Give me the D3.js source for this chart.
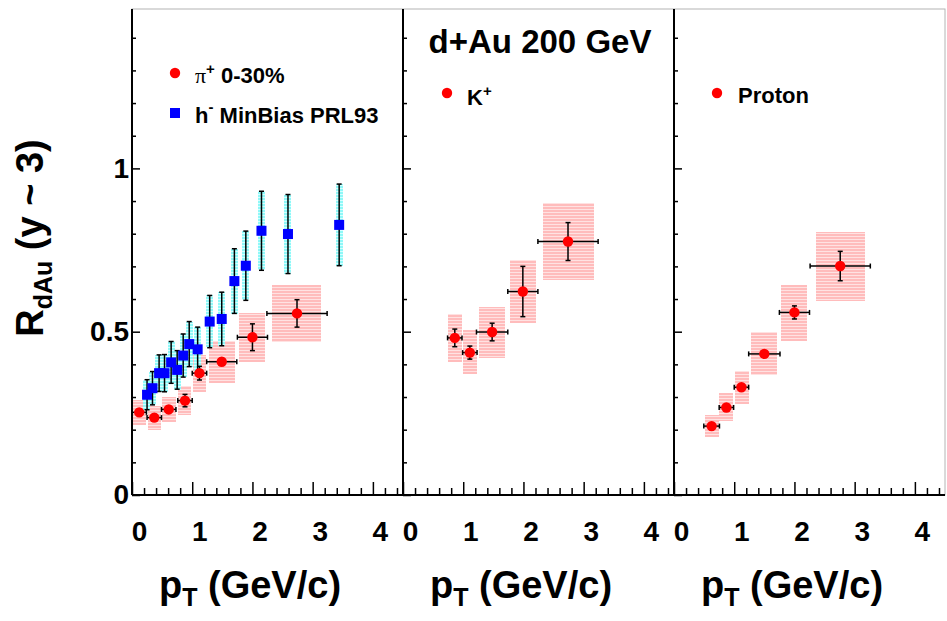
<!DOCTYPE html>
<html>
<head>
  <title>RdAu vs pT</title>
  <meta charset="utf8">
  <style type="text/css">
    body { margin: 0; background: #fff; }
    svg { font-family: 'Liberation Sans', Arial, sans-serif; font-weight: bold; }
    .axis path, .axis line { stroke: #000; }
  </style>
</head>
<body>

<script src="https://d3js.org/d3.v7.min.js"></script>

<script type="text/javascript">
var width = 947, height = 621;

// pi+ 0-30%  (left panel)
var pionPt   = [0.12, 0.37, 0.61, 0.88, 1.12, 1.49, 2.00, 2.74];
var pionR    = [0.253, 0.237, 0.262, 0.289, 0.373, 0.408, 0.483, 0.556];
var pionPtErr = [0.12, 0.12, 0.12, 0.12, 0.12, 0.25, 0.25, 0.50];
var pionStat = [0.010, 0.010, 0.010, 0.019, 0.021, 0.010, 0.041, 0.042];
var pionSys  = [0.038, 0.037, 0.039, 0.044, 0.056, 0.065, 0.075, 0.087];
var pionBin  = [0.11, 0.11, 0.12, 0.11, 0.11, 0.215, 0.215, 0.41];

// h- MinBias PRL93 (left panel)
var hPt  = [0.25, 0.34, 0.45, 0.54, 0.65, 0.75, 0.85, 0.95, 1.09, 1.29, 1.49, 1.70, 1.89, 2.15, 2.59, 3.44];
var hR   = [0.307, 0.327, 0.373, 0.373, 0.406, 0.383, 0.427, 0.462, 0.446, 0.531, 0.539, 0.655, 0.702, 0.809, 0.799, 0.827];
var hErr = [0.046, 0.051, 0.056, 0.057, 0.064, 0.059, 0.066, 0.069, 0.068, 0.080, 0.082, 0.099, 0.106, 0.121, 0.121, 0.125];
var hBin = 0.06;

// K+ (middle panel)
var kaonPt    = [0.86, 1.11, 1.48, 1.99, 2.74];
var kaonR     = [0.481, 0.436, 0.499, 0.623, 0.776];
var kaonPtErr = [0.12, 0.12, 0.26, 0.25, 0.50];
var kaonStat  = [0.027, 0.020, 0.027, 0.077, 0.058];
var kaonSys   = [0.073, 0.068, 0.078, 0.096, 0.118];
var kaonBin   = [0.115, 0.115, 0.215, 0.215, 0.42];

// proton (right panel)
var protonPt    = [0.625, 0.87, 1.12, 1.50, 2.00, 2.76];
var protonR     = [0.211, 0.268, 0.330, 0.432, 0.559, 0.701];
var protonPtErr = [0.13, 0.12, 0.12, 0.26, 0.25, 0.50];
var protonStat  = [0.008, 0.008, 0.008, 0.008, 0.020, 0.045];
var protonSys   = [0.034, 0.043, 0.051, 0.066, 0.085, 0.105];
var protonBin   = [0.115, 0.115, 0.115, 0.215, 0.215, 0.41];

var xMajor = [0, 1, 2, 3, 4];
var yMajor = [0, 0.5, 1];

var panelLeft = [132, 403, 674], panelW = 271;
var plotTop = 9, plotBottom = 495;

var svg = d3.select('body').append('svg')
    .attr('width', width)
    .attr('height', height);

svg.append('rect').attr('width', width).attr('height', height).attr('fill', '#fff');

// ROOT-like striped fill for the systematic boxes
var defs = svg.append('defs');
function hatch(id, c1, c2) {
  var p = defs.append('pattern').attr('id', id)
    .attr('patternUnits', 'userSpaceOnUse')
    .attr('width', 4).attr('height', 3);
  p.append('rect').attr('width', 4).attr('height', 3).attr('fill', c1)
    .attr('shape-rendering', 'crispEdges');
  p.append('rect').attr('y', 2).attr('width', 4).attr('height', 1).attr('fill', c2)
    .attr('shape-rendering', 'crispEdges');
}
hatch('pink', '#ffbcbc', '#ffe2e2');
hatch('cyan', '#8ff8f8', '#d4ffff');

var y = d3.scaleLinear().domain([0, 1.488]).range([plotBottom, plotTop]);

// frame
svg.append('rect')
  .attr('x', panelLeft[0]).attr('y', plotTop)
  .attr('width', panelW * 3).attr('height', plotBottom - plotTop)
  .attr('fill', 'none').attr('stroke', '#b4b4b4').attr('stroke-width', 1);

var xs = panelLeft.map(function(x0) {
  return d3.scaleLinear().domain([0, 4.5]).range([x0, x0 + panelW]);
});

function halfBin(bin, i) { return Array.isArray(bin) ? bin[i] : bin; }

function sysBoxes(g, x, pts, vals, sys, bin, fill) {
  g.selectAll(null).data(pts).enter().append('rect')
    .attr('x', function(d, i) { return Math.round(x(d - halfBin(bin, i))); })
    .attr('width', function(d, i) { return Math.round(x(d + halfBin(bin, i)) - x(d - halfBin(bin, i))); })
    .attr('y', function(d, i) { return Math.round(y(vals[i] + sys[i])); })
    .attr('height', function(d, i) { return Math.round(y(vals[i] - sys[i]) - y(vals[i] + sys[i])); })
    .attr('shape-rendering', 'crispEdges')
    .attr('fill', fill);
}

function errorBars(g, x, pts, vals, xerr, yerr) {
  var segs = [];
  pts.forEach(function(d, i) {
    var cx = x(d), cy = y(vals[i]);
    if (xerr) {
      var x1 = x(d - xerr[i]), x2 = x(d + xerr[i]);
      segs.push([x1, cy, x2, cy], [x1, cy - 2.5, x1, cy + 2.5], [x2, cy - 2.5, x2, cy + 2.5]);
    }
    var y1 = y(vals[i] + yerr[i]), y2 = y(vals[i] - yerr[i]);
    segs.push([cx, y1, cx, y2], [cx - 2.5, y1, cx + 2.5, y1], [cx - 2.5, y2, cx + 2.5, y2]);
  });
  g.selectAll(null).data(segs).enter().append('line')
    .attr('x1', function(s) { return s[0]; })
    .attr('y1', function(s) { return s[1]; })
    .attr('x2', function(s) { return s[2]; })
    .attr('y2', function(s) { return s[3]; })
    .attr('stroke', '#000').attr('stroke-width', 1.5);
}

function circles(g, x, pts, vals) {
  g.selectAll(null).data(pts).enter().append('circle')
    .attr('cx', function(d) { return x(d); })
    .attr('cy', function(d, i) { return y(vals[i]); })
    .attr('r', 5.2).attr('fill', '#ff0000');
}

function squares(g, x, pts, vals) {
  g.selectAll(null).data(pts).enter().append('rect')
    .attr('x', function(d) { return x(d) - 5; })
    .attr('y', function(d, i) { return y(vals[i]) - 5; })
    .attr('width', 10).attr('height', 10).attr('fill', '#0000ff');
}

// left panel
var g0 = svg.append('g');
sysBoxes(g0, xs[0], pionPt, pionR, pionSys, pionBin, 'url(#pink)');
sysBoxes(g0, xs[0], hPt, hR, hErr, hBin, 'url(#cyan)');
errorBars(g0, xs[0], pionPt, pionR, pionPtErr, pionStat);
errorBars(g0, xs[0], hPt, hR, null, hErr);
circles(g0, xs[0], pionPt, pionR);
squares(g0, xs[0], hPt, hR);

// middle panel
var g1 = svg.append('g');
sysBoxes(g1, xs[1], kaonPt, kaonR, kaonSys, kaonBin, 'url(#pink)');
errorBars(g1, xs[1], kaonPt, kaonR, kaonPtErr, kaonStat);
circles(g1, xs[1], kaonPt, kaonR);

// right panel
var g2 = svg.append('g');
sysBoxes(g2, xs[2], protonPt, protonR, protonSys, protonBin, 'url(#pink)');
errorBars(g2, xs[2], protonPt, protonR, protonPtErr, protonStat);
circles(g2, xs[2], protonPt, protonR);

// axes
var yMinor = d3.range(1, 15).map(function(i) { return i / 10; })
  .filter(function(v) { return Math.abs(v - 0.5) > 1e-6 && Math.abs(v - 1) > 1e-6; });
var xMinor = d3.range(1, 23).map(function(i) { return i / 5; })
  .filter(function(v) { return Math.abs(v - Math.round(v)) > 1e-6; });

xs.forEach(function(x, k) {
  var x0 = panelLeft[k];

  var ax = svg.append('g').attr('class', 'axis')
    .attr('transform', 'translate(0,' + plotBottom + ')')
    .call(d3.axisBottom(x).tickValues(xMajor).tickSize(-13).tickPadding(26).tickFormat(d3.format('d')));
  ax.select('.domain').attr('stroke-width', 2).attr('d', 'M' + x0 + ',0H' + (x0 + panelW));
  ax.selectAll('line').attr('stroke-width', 1.5);
  ax.selectAll('text').attr('dx', 7).style('font-size', '28px').style('font-family', 'Liberation Sans, Arial, sans-serif').attr('fill', '#000');

  var axm = svg.append('g').attr('class', 'axis')
    .attr('transform', 'translate(0,' + plotBottom + ')')
    .call(d3.axisBottom(x).tickValues(xMinor).tickSize(-7).tickFormat(''));
  axm.select('.domain').remove();
  axm.selectAll('line').attr('stroke-width', 1.5);

  var ay = svg.append('g').attr('class', 'axis')
    .attr('transform', 'translate(' + x0 + ',0)')
    .call(d3.axisLeft(y).tickValues(yMajor).tickSize(-8).tickPadding(3)
      .tickFormat(k === 0 ? function(d) { return String(d); } : ''));
  ay.select('.domain').attr('stroke-width', 2).attr('d', 'M0,' + plotTop + 'V' + plotBottom);
  ay.selectAll('line').attr('stroke-width', 1.5);
  ay.selectAll('text').style('font-size', '28px').style('font-family', 'Liberation Sans, Arial, sans-serif').attr('fill', '#000');

  var aym = svg.append('g').attr('class', 'axis')
    .attr('transform', 'translate(' + x0 + ',0)')
    .call(d3.axisLeft(y).tickValues(yMinor).tickSize(-4).tickFormat(''));
  aym.select('.domain').remove();
  aym.selectAll('line').attr('stroke-width', 1.5);

  // x title
  var t = svg.append('text')
    .attr('x', x0 + 118).attr('y', 598)
    .attr('text-anchor', 'middle')
    .style('font-size', '38px');
  t.append('tspan').text('p');
  t.append('tspan').attr('dy', 8).style('font-size', '25px').text('T');
  t.append('tspan').attr('dy', -8).text(' (GeV/c)');
});

// y title
var yt = svg.append('text')
  .attr('transform', 'translate(43,238) rotate(-90)')
  .attr('text-anchor', 'middle')
  .style('font-size', '38px');
yt.append('tspan').text('R');
yt.append('tspan').attr('dy', 9).style('font-size', '25px').text('dAu');
yt.append('tspan').attr('dy', -9).text(' (y ~ 3)');

// header
svg.append('text')
  .attr('x', 540).attr('y', 53)
  .attr('text-anchor', 'middle')
  .style('font-size', '33px')
  .text('d+Au 200 GeV');

// legends
svg.append('circle').attr('cx', 175).attr('cy', 73).attr('r', 5.2).attr('fill', '#ff0000');
var l1 = svg.append('text').attr('x', 195).attr('y', 83).style('font-size', '22px');
l1.append('tspan').style('font-family', 'Liberation Serif, serif').style('font-weight', 'normal').text('\u03c0');
l1.append('tspan').attr('dy', -9).style('font-size', '15px').text('+');
l1.append('tspan').attr('dy', 9).text(' 0-30%');

svg.append('rect').attr('x', 170).attr('y', 108).attr('width', 10).attr('height', 10).attr('fill', '#0000ff');
var l2 = svg.append('text').attr('x', 195).attr('y', 123).style('font-size', '22px');
l2.append('tspan').text('h');
l2.append('tspan').attr('dy', -11).style('font-size', '15px').text('-');
l2.append('tspan').attr('dy', 11).text(' MinBias PRL93');

svg.append('circle').attr('cx', 447).attr('cy', 93).attr('r', 5.2).attr('fill', '#ff0000');
var l3 = svg.append('text').attr('x', 467).attr('y', 105).style('font-size', '22px');
l3.append('tspan').text('K');
l3.append('tspan').attr('dy', -9).style('font-size', '15px').text('+');

svg.append('circle').attr('cx', 717).attr('cy', 93).attr('r', 5.2).attr('fill', '#ff0000');
svg.append('text').attr('x', 738).attr('y', 103).style('font-size', '22px').text('Proton');
</script>

</body>
</html>
